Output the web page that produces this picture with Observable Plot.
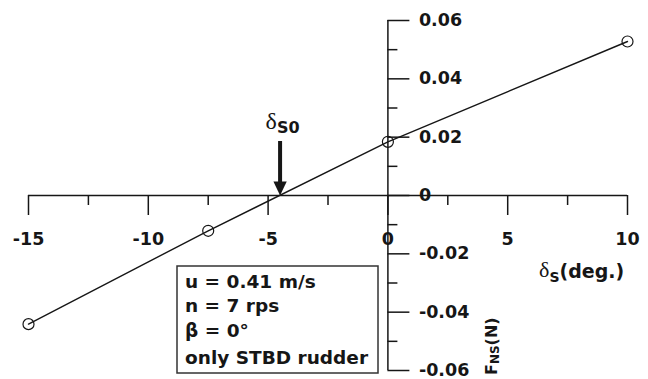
<!DOCTYPE html>
<html><head><meta charset="utf-8">
<script src="https://cdn.jsdelivr.net/npm/d3@7"></script>
<script src="https://cdn.jsdelivr.net/npm/@observablehq/plot@0.6"></script>
<style>
html,body{margin:0;padding:0;background:#fff;}
#chart{position:relative;width:648px;height:379px;}
</style></head><body><div id="chart"></div>
<script>
// ---- data ----
const deltaS = [-15, -7.5, 0, 10];
const FNS = [-0.0441, -0.0121, 0.0184, 0.0528];
const deltaS0 = -4.5;
const xMajorTicks = [-15, -10, -5, 0, 5, 10];
const xTickLabels = ["-15", "-10", "-5", "0", "5", "10"];
const xMinorTicks = [-12.5, -7.5, -2.5, 2.5, 7.5];
const yMajorTicks = [-0.06, -0.04, -0.02, 0, 0.02, 0.04, 0.06];
const yTickLabels = ["-0.06", "-0.04", "-0.02", "0", "0.02", "0.04", "0.06"];
const yMinorTicks = [-0.05, -0.03, -0.01, 0.01, 0.03, 0.05];
const legendLines = ["u = 0.41 m/s", "n = 7 rps", "β = 0°", "only STBD rudder"];

const points = deltaS.map((x, i) => ({x, y: FNS[i]}));
const xLab = xMajorTicks.map((v, i) => ({v, t: xTickLabels[i]}));
const yLab = yMajorTicks.map((v, i) => ({v, t: yTickLabels[i]}));

const ink = "#161616";
const downTriangle = {
  draw(context, size) {
    const r = Math.sqrt(size / Math.PI);
    context.moveTo(0, 0);
    context.lineTo(-r * 0.95, -r * 2);
    context.lineTo(r * 0.95, -r * 2);
    context.closePath();
  }
};

const plot = Plot.plot({
  width: 648, height: 379,
  marginLeft: 28, marginRight: 21, marginTop: 20, marginBottom: 9,
  x: {domain: [-15, 10], axis: null},
  y: {domain: [-0.06, 0.06], axis: null},
  style: {fontFamily: "'DejaVu Sans', sans-serif", background: "white", overflow: "visible", color: ink},
  marks: [
    Plot.ruleY([0], {stroke: ink, strokeWidth: 1.5}),
    Plot.ruleX([0], {stroke: ink, strokeWidth: 1.5}),
    // x ticks (downward from y=0)
    Plot.ruleX(xMajorTicks, {x: d => d, y1: () => 0, y2: () => 0, insetBottom: -20, stroke: ink, strokeWidth: 1.5}),
    Plot.ruleX(xMinorTicks, {x: d => d, y1: () => 0, y2: () => 0, insetBottom: -10, stroke: ink, strokeWidth: 1.5}),
    // y ticks (rightward from x=0)
    Plot.ruleY(yMajorTicks, {y: d => d, x1: () => 0, x2: () => 0, insetRight: -22, stroke: ink, strokeWidth: 1.5}),
    Plot.ruleY(yMinorTicks, {y: d => d, x1: () => 0, x2: () => 0, insetRight: -10, stroke: ink, strokeWidth: 1.5}),
    // tick labels
    Plot.text(xLab, {x: "v", y: () => 0, text: "t", dy: 44, fontSize: 17.5, fontWeight: "bold", fill: ink}),
    Plot.text(yLab, {x: () => 0, y: "v", text: "t", dx: 31, textAnchor: "start", fontSize: 17.5, fontWeight: "bold", fill: ink}),
    // data
    Plot.line(points, {x: "x", y: "y", stroke: ink, strokeWidth: 1.4}),
    Plot.dot(points, {x: "x", y: "y", r: 5.5, stroke: ink, fill: "none", strokeWidth: 1.2}),
    // arrow to delta_S0
    Plot.ruleX([deltaS0], {x: d => d, y1: () => 0, y2: () => 0, insetTop: -54, insetBottom: 12, stroke: ink, strokeWidth: 4}),
    Plot.dot([deltaS0], {x: d => d, y: () => 0, r: 7, symbol: downTriangle, fill: ink, stroke: "none"})
  ]
});

document.getElementById("chart").appendChild(plot);
const svg = d3.select(plot);
const xs = plot.scale("x");

// delta_S0 label
const l1 = svg.append("text").attr("x", xs.apply(deltaS0) + 3).attr("y", 129)
  .attr("text-anchor", "middle").attr("fill", ink);
l1.append("tspan").attr("font-family", "'Liberation Serif', serif").attr("font-size", 24).text("δ");
l1.append("tspan").attr("font-size", 16).attr("font-weight", "bold").attr("dy", 4).text("S0");

// x axis title
const l2 = svg.append("text").attr("x", 539).attr("y", 277).attr("text-anchor", "start").attr("fill", ink);
l2.append("tspan").attr("font-family", "'Liberation Serif', serif").attr("font-size", 22).text("δ");
l2.append("tspan").attr("font-size", 14).attr("font-weight", "bold").attr("dy", 5).text("S");
l2.append("tspan").attr("font-size", 19).attr("font-weight", "bold").attr("dy", -4).text("(deg.)");

// y axis title (rotated)
const l3 = svg.append("text").attr("transform", "translate(497,375) rotate(-90)")
  .attr("text-anchor", "start").attr("fill", ink);
l3.append("tspan").attr("font-size", 16).attr("font-weight", "bold").text("F");
l3.append("tspan").attr("font-size", 12).attr("font-weight", "bold").attr("dy", 2).text("NS");
l3.append("tspan").attr("font-size", 16).attr("font-weight", "bold").attr("dy", -2).text("(N)");

// condition box
svg.append("rect").attr("x", 177).attr("y", 266).attr("width", 201).attr("height", 107)
  .attr("fill", "white").attr("stroke", "#333").attr("stroke-width", 1.5);
const baselines = [288, 312, 337, 364];
legendLines.forEach((t, i) => {
  svg.append("text").attr("x", 185).attr("y", baselines[i]).attr("font-size", 18.5)
    .attr("text-anchor", "start").attr("font-weight", "bold").attr("fill", ink).text(t);
});
</script>
</body></html>
